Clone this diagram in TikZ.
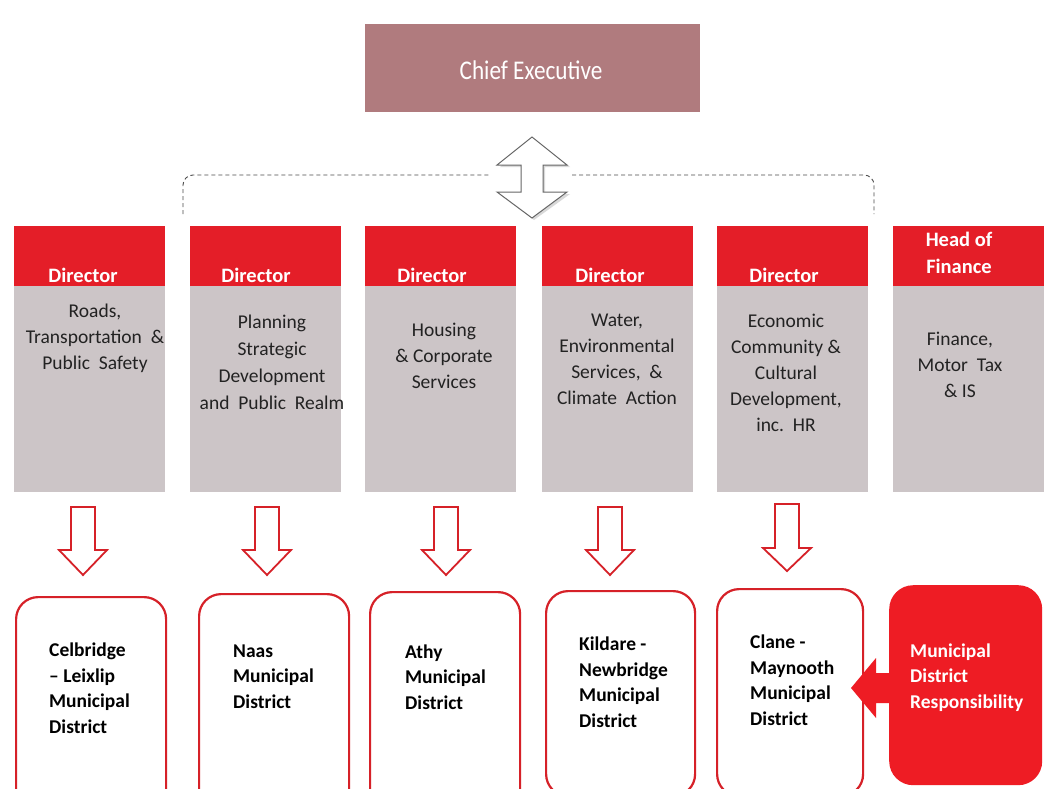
\documentclass[tikz,border=0pt]{standalone}
\usepackage{fontspec}
\setmainfont{Carlito}
\newfontfamily\chieffont[FakeStretch=0.86]{Carlito}
\definecolor{hdrred}{HTML}{E41E28}
\definecolor{boxred}{HTML}{EE1C24}
\definecolor{outred}{HTML}{D62128}
\definecolor{bodygrey}{HTML}{CCC5C7}
\definecolor{chiefc}{HTML}{B07B7E}
\definecolor{bodytext}{HTML}{222222}
\newcommand{\blockdown}[4]{%
  \draw[downarr] (#1-12,#2) -- (#1+12,#2) -- (#1+12,#3) -- (#1+24,#3) -- (#1,#4) -- (#1-24,#3) -- (#1-12,#3) -- cycle;}
\begin{document}
\begin{tikzpicture}[x=1pt,y=-1pt,
  chiefbox/.style={fill=chiefc, draw=none, minimum width=335pt, minimum height=88pt, inner sep=0pt, anchor=north west},
  chieftxt/.style={font=\chieffont\fontsize{27}{30}\selectfont, text=white, anchor=base, inner sep=0pt},
  hdr/.style={fill=hdrred, draw=none, minimum width=151pt, minimum height=60pt, inner sep=0pt, anchor=north west},
  bodybox/.style={fill=bodygrey, draw=none, minimum width=151pt, minimum height=206pt, inner sep=0pt, anchor=north west},
  hdrtxt/.style={font=\fontsize{20.5}{27}\selectfont\bfseries, text=white, anchor=base, align=center, inner sep=0pt},
  bodytxt/.style={font=\fontsize{19.5}{26}\selectfont, text=bodytext, anchor=base, align=center, inner sep=0pt},
  distbox/.style={fill=white, draw=outred, line width=2.2pt, rounded corners=22pt, inner sep=0pt, anchor=north west},
  mdbox/.style={fill=boxred, draw=none, rounded corners=24pt, inner sep=0pt, anchor=north west},
  disttxt/.style={font=\fontsize{19.5}{25.5}\selectfont\bfseries, text=black, anchor=base west, align=left, inner sep=0pt},
  downarr/.style={fill=white, draw=outred, line width=1.8pt, line join=miter},
  dblarr/.style={fill=white, draw=gray!80!black, line width=1pt, line join=miter},
  dashline/.style={draw=gray!60!black, line width=0.9pt, dash pattern=on 4pt off 3pt, rounded corners=10pt}
]
\useasboundingbox (0,0) rectangle (1062,789);
\clip (0,0) rectangle (1062,789);
\fill[white] (0,0) rectangle (1062,789);

% Chief Executive
\node[chiefbox] (ce) at (365,24) {};
\node[chieftxt] (cet) at (531,80) {Chief\ Executive};

% dashed bracket
\coordinate (dl) at (183,214);
\coordinate (dlg) at (490,175);
\coordinate (drg) at (572,175);
\coordinate (dr) at (874,214);
\draw[dashline] (dl) |- (dlg);
\draw[dashline] (drg) -| (dr);

% double arrow
\draw[fill=gray!30, draw=none] (534,139) -- (570,167) -- (545,167) -- (545,194) -- (570,194) -- (534,220) -- (500,194) -- (524,194) -- (524,167) -- (500,167) -- cycle;
\draw[dblarr] (532,137) -- (567,165) -- (543,165) -- (543,192) -- (567,192) -- (532,218) -- (497,192) -- (521,192) -- (521,165) -- (497,165) -- cycle;

% headers and bodies
\node[hdr] (h1) at (14,226) {};
\node[hdr] (h2) at (190,226) {};
\node[hdr] (h3) at (365,226) {};
\node[hdr] (h4) at (542,226) {};
\node[hdr] (h5) at (717,226) {};
\node[hdr] (h6) at (893,226) {};
\node[bodybox] (b1) at (14,286) {};
\node[bodybox] (b2) at (190,286) {};
\node[bodybox] (b3) at (365,286) {};
\node[bodybox] (b4) at (542,286) {};
\node[bodybox] (b5) at (717,286) {};
\node[bodybox] (b6) at (893,286) {};

\node[hdrtxt] (ht1) at (83,282) {Director};
\node[hdrtxt] (ht2) at (256,282) {Director};
\node[hdrtxt] (ht3) at (432,282) {Director};
\node[hdrtxt] (ht4) at (610,282) {Director};
\node[hdrtxt] (ht5) at (784,282) {Director};
\node[hdrtxt] (ht6) at (959,273) {Head of\\Finance};

\node[bodytxt] (bt1) at (95,369) {Roads,\\Transportation\ \ \&\\Public\ \ Safety};
\node[bodytxt, font=\fontsize{19.5}{27}\selectfont] (bt2) at (272,409) {Planning\\Strategic\\Development\\and\ \ Public\ \ Realm};
\node[bodytxt] (bt3) at (444,388) {Housing\\\& Corporate\\Services};
\node[bodytxt] (bt4) at (617,404) {Water,\\Environmental\\Services,\ \ \&\\Climate\ \ Action};
\node[bodytxt] (bt5) at (786,431) {Economic\\Community \&\\Cultural\\Development,\\inc.\ \ HR};
\node[bodytxt] (bt6) at (960,397) {Finance,\\Motor\ \ Tax\\\& IS};

% down arrows
\blockdown{83}{507}{550}{575}
\blockdown{267}{507}{550}{575}
\blockdown{446}{507}{550}{575}
\blockdown{610}{507}{550}{575}
\blockdown{787}{504}{548}{571}

% district boxes
\node[distbox, minimum width=150pt, minimum height=214pt] (d1) at (15,596) {};
\node[distbox, minimum width=150pt, minimum height=217pt] (d2) at (198,593) {};
\node[distbox, minimum width=150pt, minimum height=219pt] (d3) at (369,591) {};
\node[distbox, minimum width=149pt, minimum height=205pt] (d4) at (545,590) {};
\node[distbox, minimum width=146pt, minimum height=207pt] (d5) at (716,588) {};
\node[mdbox, minimum width=153pt, minimum height=200pt] (d6) at (889,585) {};

% left arrow into Clane - Maynooth
\fill[boxred] (851,688) -- (876,658) -- (876,673) -- (892,673) -- (892,703) -- (876,703) -- (876,718) -- cycle;

\node[disttxt] (t1) at (49,733) {Celbridge\\– Leixlip\\Municipal\\District};
\node[disttxt] (t2) at (233,708) {Naas\\Municipal\\District};
\node[disttxt] (t3) at (405,709) {Athy\\Municipal\\District};
\node[disttxt] (t4) at (579,727) {Kildare -\\Newbridge\\Municipal\\District};
\node[disttxt] (t5) at (750,725) {Clane -\\Maynooth\\Municipal\\District};
\node[disttxt, text=white] (t6) at (910,708) {Municipal\\District\\Responsibility};
\end{tikzpicture}
\end{document}
